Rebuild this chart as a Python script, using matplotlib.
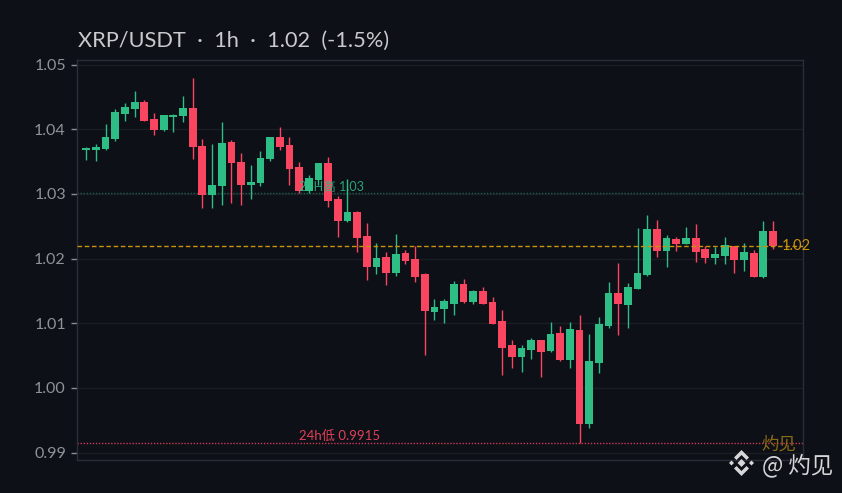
import matplotlib
matplotlib.use("Agg")
import matplotlib.pyplot as plt
from matplotlib.patches import Polygon
import numpy as np

opens = [1.0368,1.0368,1.0369,1.0385,1.0423,1.0431,1.0442,1.0416,1.0399,1.0419,1.0420,1.0433,
         1.0374,1.0298,1.0312,1.0380,1.0349,1.0314,1.0317,1.0354,1.0388,1.0376,1.0342,1.0304,
         1.0321,1.0348,1.0292,1.0258,1.0272,1.0235,1.0187,1.0202,1.0178,1.0209,1.0199,1.0176,
         1.0117,1.0122,1.0130,1.0161,1.0133,1.0150,1.0133,1.0104,1.0066,1.0048,1.0059,1.0074,
         1.0057,1.0085,1.0043,1.0090,0.9944,1.0039,1.0096,1.0147,1.0128,1.0153,1.0175,1.0246,
         1.0212,1.0230,1.0223,1.0232,1.0215,1.0201,1.0204,1.0219,1.0198,1.0209,1.0172,1.0243]
highs = [1.0372,1.0377,1.0408,1.0431,1.0440,1.0459,1.0445,1.0425,1.0422,1.0423,1.0451,1.0479,
         1.0385,1.0377,1.0411,1.0383,1.0363,1.0345,1.0366,1.0388,1.0403,1.0388,1.0349,1.0329,
         1.0348,1.0357,1.0297,1.0323,1.0274,1.0255,1.0224,1.0210,1.0238,1.0213,1.0219,1.0178,
         1.0138,1.0138,1.0165,1.0168,1.0151,1.0156,1.0141,1.0121,1.0074,1.0066,1.0077,1.0074,
         1.0102,1.0096,1.0102,1.0113,1.0083,1.0110,1.0164,1.0193,1.0162,1.0247,1.0267,1.0260,
         1.0236,1.0233,1.0249,1.0253,1.0219,1.0218,1.0233,1.0219,1.0224,1.0213,1.0258,1.0258]
lows = [1.0352,1.0351,1.0368,1.0382,1.0413,1.0419,1.0413,1.0391,1.0397,1.0396,1.0411,1.0354,
        1.0278,1.0278,1.0283,1.0286,1.0283,1.0292,1.0312,1.0351,1.0368,1.0314,1.0301,1.0301,
        1.0314,1.0280,1.0233,1.0257,1.0210,1.0167,1.0176,1.0159,1.0173,1.0192,1.0164,1.0051,
        1.0105,1.0100,1.0113,1.0131,1.0130,1.0130,1.0099,1.0020,1.0031,1.0025,1.0045,1.0017,
        1.0056,1.0042,1.0031,0.9915,0.9938,1.0023,1.0093,1.0082,1.0093,1.0153,1.0173,1.0202,
        1.0187,1.0212,1.0223,1.0195,1.0193,1.0192,1.0192,1.0178,1.0181,1.0172,1.0170,1.0215]
closes = [1.0371,1.0372,1.0388,1.0427,1.0434,1.0442,1.0413,1.0399,1.0422,1.0422,1.0433,1.0372,
          1.0298,1.0314,1.0379,1.0348,1.0314,1.0318,1.0355,1.0388,1.0372,1.0338,1.0304,1.0325,
          1.0348,1.0289,1.0258,1.0272,1.0232,1.0187,1.0201,1.0178,1.0207,1.0196,1.0172,1.0119,
          1.0125,1.0134,1.0161,1.0133,1.0150,1.0130,1.0099,1.0062,1.0048,1.0062,1.0074,1.0056,
          1.0083,1.0043,1.0091,0.9944,1.0042,1.0099,1.0147,1.0130,1.0156,1.0178,1.0246,1.0212,
          1.0232,1.0223,1.0232,1.0210,1.0201,1.0207,1.0221,1.0198,1.0210,1.0172,1.0243,1.0219]

y_ticks = [0.99, 1.00, 1.01, 1.02, 1.03, 1.04, 1.05]
y_tick_labels = ["0.99", "1.00", "1.01", "1.02", "1.03", "1.04", "1.05"]
high_24h = 1.0301
low_24h = 0.9915
last_price = 1.0219
title_text = "XRP/USDT  ·  1h  ·  1.02  (-1.5%)"
high_label = "24H高 1.03"
low_label = "24h低 0.9915"
last_label = "1.02"
watermark = "灼见"
credit = "@ 灼见"

BG = "#0d1017"
UP = "#2ebd85"
DOWN = "#fa4560"
GRID = "#1a1d24"
SPINE = "#2b2e36"
AMBER = "#c9930c"
FONT = ["Lato", "Noto Sans CJK SC", "DejaVu Sans"]
CJK = ["Noto Sans CJK SC", "DejaVu Sans"]

plt.rcParams["font.family"] = FONT
W, H = 842, 493
fig = plt.figure(figsize=(W / 100, H / 100), dpi=100, facecolor=BG)
ax = fig.add_axes([77 / W, 1 - 460 / H, (803 - 77) / W, 400 / H], facecolor=BG)

x = np.arange(len(opens))
o, h, l, c = map(np.array, (opens, highs, lows, closes))
colors = [UP if ci >= oi else DOWN for oi, ci in zip(o, c)]

ax.set_axisbelow(True)
ax.yaxis.grid(True, color=GRID, lw=1)
ax.xaxis.grid(False)
ax.vlines(x, l, h, colors=colors, lw=1.0, zorder=3)
ax.bar(x, np.abs(c - o), bottom=np.minimum(o, c), width=0.8, color=colors, lw=0, zorder=4)

ax.axhline(high_24h, color=UP, lw=1.0, ls=(0, (1, 1.2)), alpha=0.45, zorder=2)
ax.axhline(low_24h, color=DOWN, lw=1.0, ls=(0, (1, 1.2)), alpha=0.8, zorder=2)
ax.axhline(last_price, color=AMBER, lw=1.0, ls=(0, (3.3, 1.9)), zorder=5)

ax.set_xlim(-0.96, 74.1)
ax.set_ylim(0.98887, 1.0507)
ax.set_xticks([])
ax.set_yticks(y_ticks, y_tick_labels)
ax.tick_params(axis="y", length=4, width=1, color="#8a8d94", labelcolor="#8f9298",
               labelsize=11.5, pad=4)
for s in ax.spines.values():
    s.set_color(SPINE)
    s.set_linewidth(1)


def ftext(px, py, s, **kw):
    return fig.text(px / W, 1 - py / H, s, va="center", **kw)


ftext(78, 41, title_text, color="#c9cacd", fontsize=15.65, fontweight="normal")
ftext(299, 186.5, high_label, color=UP, alpha=0.85, fontsize=9.1, zorder=6, family=FONT)
ftext(299, 436, low_label, color=DOWN, alpha=0.9, fontsize=9.5, zorder=6, family=FONT)
ftext(782, 246, last_label, color=AMBER, fontsize=10.6, zorder=6)
ftext(761, 445, watermark, color="#8a6a14", fontsize=12.5, family=CJK, zorder=6)
ftext(762, 465, credit, color="#d6d7d9", fontsize=16.2, family=CJK, zorder=6)

# exchange logo of the credit mark
cx, cy = 741.5, 463.0


def poly(pts):
    fig.add_artist(Polygon([((cx + a) / W, 1 - (cy + b) / H) for a, b in pts],
                           closed=True, transform=fig.transFigure, fc="#d6d7d9", lw=0))


poly([(0, -4), (4, 0), (0, 4), (-4, 0)])
poly([(-12.5, 0), (-10, -2.5), (-7.5, 0), (-10, 2.5)])
poly([(12.5, 0), (10, -2.5), (7.5, 0), (10, 2.5)])
poly([(0, -13), (7.5, -5.5), (5, -3), (0, -8), (-5, -3), (-7.5, -5.5)])
poly([(0, 13), (7.5, 5.5), (5, 3), (0, 8), (-5, 3), (-7.5, 5.5)])

fig.savefig("out.png", dpi=100, facecolor=BG)
